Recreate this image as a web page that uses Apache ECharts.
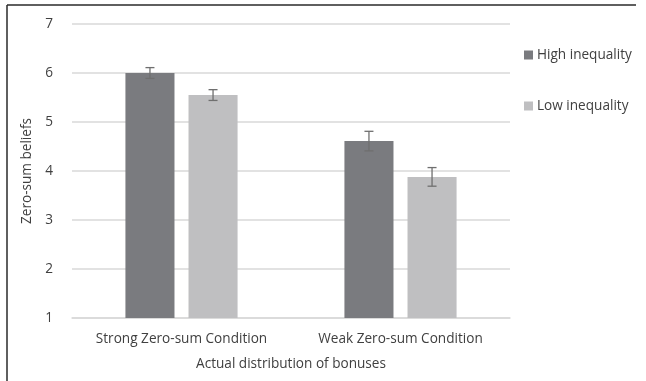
<!DOCTYPE html>
<html>
<head>
<meta charset="utf-8">
<script src="https://cdn.jsdelivr.net/npm/echarts@6/dist/echarts.min.js"></script>
<style>html,body{margin:0;padding:0;background:#fff}#c{width:646px;height:381px}</style>
</head>
<body>
<div id="c"></div>
<script>
const categories = ['Strong Zero-sum Condition', 'Weak Zero-sum Condition'];
const seriesNames = ['High inequality', 'Low inequality'];
const highMeans = [6.0, 4.61];
const lowMeans = [5.55, 3.88];
const highErr = [0.11, 0.2];
const lowErr = [0.11, 0.19];
const yTicks = [1, 2, 3, 4, 5, 6, 7];

const FONT = '"Open Sans", "Liberation Sans", sans-serif';
const FS = 13.6;
const TXT = '#404040';
const BAR_W = 0.224, GAP = 0.286;

function errSeries(means, errs, side) {
  return {
    type: 'custom',
    z: 10,
    data: means.map((m, i) => [i, m - errs[i], m + errs[i]]),
    renderItem: function (params, api) {
      const band = api.size([1, 0])[0];
      const bw = band * BAR_W;
      const off = side * (bw + bw * GAP) / 2;
      const lo = api.coord([api.value(0), api.value(1)]);
      const hi = api.coord([api.value(0), api.value(2)]);
      const x = lo[0] + off;
      const cap = 4.5;
      const st = { stroke: '#6f6f6f', lineWidth: 1.3 };
      return { type: 'group', children: [
        { type: 'line', shape: { x1: x, y1: lo[1], x2: x, y2: hi[1] }, style: st },
        { type: 'line', shape: { x1: x - cap, y1: lo[1], x2: x + cap, y2: lo[1] }, style: st },
        { type: 'line', shape: { x1: x - cap, y1: hi[1], x2: x + cap, y2: hi[1] }, style: st }
      ]};
    },
    encode: { x: 0, y: [1, 2] },
    silent: true
  };
}

const chart = echarts.init(document.getElementById('c'), null, { renderer: 'canvas' });
chart.setOption({
  animation: false,
  textStyle: { fontFamily: FONT },
  grid: { left: 72, right: 136, top: 24, bottom: 63, containLabel: false },
  legend: {
    orient: 'vertical',
    left: 519, top: 43,
    itemWidth: 9, itemHeight: 9, itemGap: 37,
    icon: 'rect',
    data: seriesNames,
    textStyle: { fontFamily: FONT, fontSize: FS, color: TXT, padding: [0, 0, 0, -1] }
  },
  xAxis: {
    type: 'category',
    data: categories,
    name: 'Actual distribution of bonuses',
    nameLocation: 'middle',
    nameGap: 39,
    nameTextStyle: { fontFamily: FONT, fontSize: FS, color: TXT },
    axisLine: { show: true, lineStyle: { color: '#d9d9d9', width: 1.5 } },
    axisTick: { show: false },
    axisLabel: { fontFamily: FONT, fontSize: FS, color: TXT, margin: 14, interval: 0, hideOverlap: false }
  },
  yAxis: {
    type: 'value',
    min: yTicks[0], max: yTicks[yTicks.length - 1], interval: 1,
    name: 'Zero-sum beliefs',
    nameLocation: 'middle',
    nameGap: 32,
    nameTextStyle: { fontFamily: FONT, fontSize: FS, color: TXT },
    axisLine: { show: false },
    axisTick: { show: false },
    axisLabel: { fontFamily: FONT, fontSize: FS, color: TXT, margin: 19 },
    splitLine: { lineStyle: { color: '#d9d9d9', width: 1.5 } }
  },
  series: [
    { name: seriesNames[0], type: 'bar', data: highMeans, barWidth: (BAR_W * 100) + '%', barGap: (GAP * 100) + '%',
      itemStyle: { color: '#7a7b7f' } },
    { name: seriesNames[1], type: 'bar', data: lowMeans, barWidth: (BAR_W * 100) + '%', barGap: (GAP * 100) + '%',
      itemStyle: { color: '#bfbfc1' } },
    errSeries(highMeans, highErr, -1),
    errSeries(lowMeans, lowErr, 1)
  ],
  graphic: [
    { type: 'line', shape: { x1: 7, y1: 5, x2: 636, y2: 5 }, style: { stroke: '#2a2a2a', lineWidth: 1.5 } },
    { type: 'line', shape: { x1: 7, y1: 5, x2: 7, y2: 381 }, style: { stroke: '#2a2a2a', lineWidth: 1.5 } }
  ]
});
</script>
</body>
</html>
